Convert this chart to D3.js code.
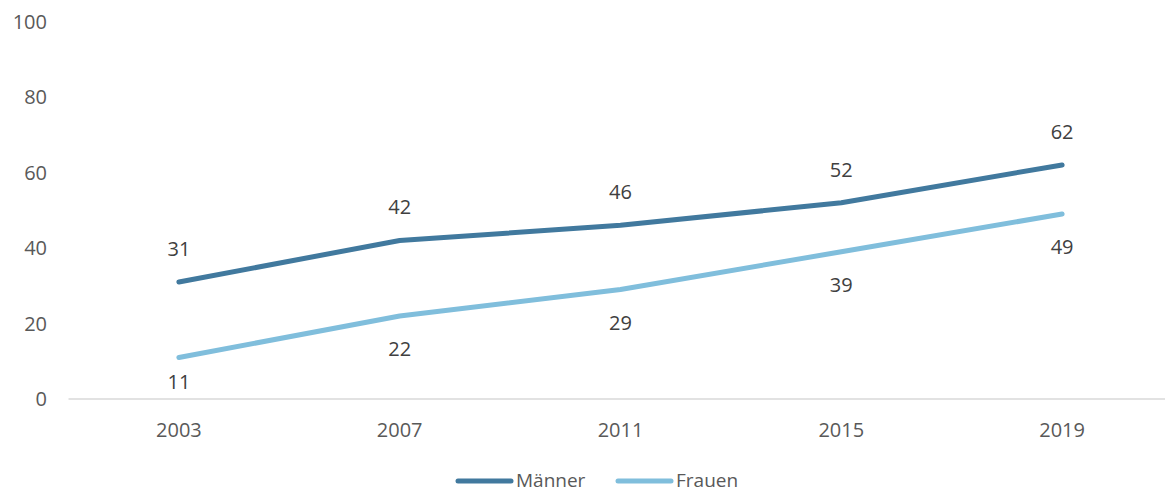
<!DOCTYPE html>
<html>
<head>
<meta charset="utf-8">
<script src="https://cdn.jsdelivr.net/npm/d3@7"></script>
<style>
  body { margin: 0; background: #fff; }
  text { font-family: "Open Sans", sans-serif; }
</style>
</head>
<body>
<script>
// data
const years = ["2003", "2007", "2011", "2015", "2019"];
const maenner = [31, 42, 46, 52, 62];
const frauen = [11, 22, 29, 39, 49];
const yTicks = [0, 20, 40, 60, 80, 100];

const W = 1165, H = 492;
const svg = d3.select("body").append("svg").attr("width", W).attr("height", H);

// scales
const x = d3.scaleBand().domain(years).range([68.5, 1172.5]);
const y = d3.scaleLinear().domain([0, 100]).range([399, 21.5]);
const cx = d => x(d) + x.bandwidth() / 2;

// x axis line
svg.append("line")
  .attr("x1", 68.5).attr("x2", W)
  .attr("y1", y(0)).attr("y2", y(0))
  .attr("stroke", "#d9d9d9").attr("stroke-width", 1.5);

// y tick labels
svg.selectAll(".ylab").data(yTicks).join("text")
  .attr("x", 47).attr("y", d => y(d))
  .attr("dy", "0.35em").attr("text-anchor", "end")
  .attr("font-size", 20).attr("fill", "#595959")
  .text(d => d);

// x tick labels
svg.selectAll(".xlab").data(years).join("text")
  .attr("x", d => cx(d)).attr("y", 430)
  .attr("dy", "0.35em").attr("text-anchor", "middle")
  .attr("font-size", 20).attr("fill", "#595959")
  .text(d => d);

const series = [
  {name: "Männer", values: maenner, color: "#41799e", above: true},
  {name: "Frauen", values: frauen, color: "#80bedc", above: false}
];

const line = d3.line().x(d => cx(d.year)).y(d => y(d.v));

series.forEach(s => {
  const pts = years.map((yr, i) => ({year: yr, v: s.values[i]}));
  svg.append("path").datum(pts)
    .attr("d", line)
    .attr("fill", "none")
    .attr("stroke", s.color)
    .attr("stroke-width", 5)
    .attr("stroke-linecap", "round")
    .attr("stroke-linejoin", "round");

  svg.selectAll(null).data(pts).join("text")
    .attr("x", d => cx(d.year))
    .attr("y", d => s.above ? y(d.v) - 33 : Math.min(y(d.v) + 33, y(0) - 17))
    .attr("dy", "0.35em").attr("text-anchor", "middle")
    .attr("font-size", 20).attr("fill", "#404040")
    .text(d => d.v);
});

// legend
const legend = [
  {name: "Männer", color: "#41799e", x: 458},
  {name: "Frauen", color: "#80bedc", x: 618}
];
legend.forEach(l => {
  svg.append("line")
    .attr("x1", l.x).attr("x2", l.x + 53)
    .attr("y1", 481).attr("y2", 481)
    .attr("stroke", l.color).attr("stroke-width", 5)
    .attr("stroke-linecap", "round");
  svg.append("text")
    .attr("x", l.x + 58).attr("y", 480)
    .attr("dy", "0.35em")
    .attr("font-size", 19).attr("fill", "#595959")
    .text(l.name);
});
</script>
</body>
</html>
